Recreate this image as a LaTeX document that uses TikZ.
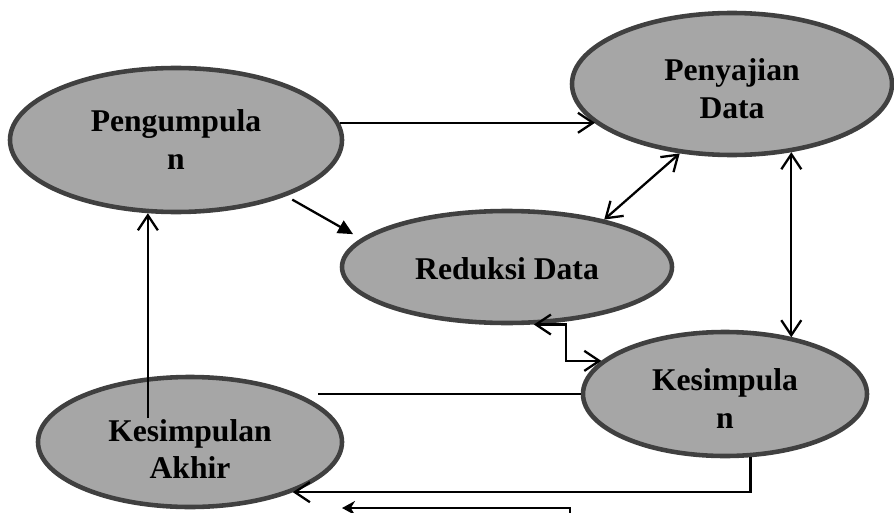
\documentclass[tikz,border=0pt]{standalone}
\usepackage{fontspec}
\setmainfont{Liberation Serif}
\usetikzlibrary{shapes, arrows.meta, positioning}

\definecolor{blobfill}{RGB}{166,166,166}
\definecolor{blobline}{RGB}{64,64,64}
\tikzset{
  blob/.style={ellipse, draw=blobline, fill=blobfill, line width=2.6pt, inner sep=0pt,
    align=center, font=\fontsize{18}{21.6}\selectfont\bfseries},
  barb/.style={line width=1.3pt, -{Straight Barb[length=3mm,width=4mm]}},
  barbs/.style={line width=1.3pt, {Straight Barb[length=3mm,width=4mm]}-{Straight Barb[length=3mm,width=4mm]}},
  plain/.style={line width=0.9pt}
}

\begin{document}
\begin{tikzpicture}[scale=1]
  \useasboundingbox (0,0) rectangle (17.88,10.24);
  \node[blob, minimum width=6.64cm, minimum height=2.88cm] (peng) at (3.52,7.44) {Pengumpula\\n};
  \node[blob, minimum width=6.4cm, minimum height=2.84cm] (peny) at (14.64,8.56) {\rule{0pt}{17.5pt}Penyajian\\Data};
  \node[blob, minimum width=6.6cm, minimum height=2.24cm] (red) at (10.14,4.9) {\rule{0pt}{15pt}Reduksi Data};
  \node[blob, minimum width=5.68cm, minimum height=2.48cm] (kes) at (14.5,2.36) {\rule{0pt}{18pt}Kesimpula\\n};
  \node[blob, minimum width=6.08cm, minimum height=2.6cm] (akhir) at (3.8,1.4) {\rule{0pt}{20.5pt}Kesimpulan\\Akhir};
  % free ends
  \coordinate (gap) at (6.36,2.36);
  \coordinate (lowin) at (11.4,-0.3);
  \coordinate (lowend) at (6.84,0.08);

  \draw[barb] (peng.6) -- (peng.6 -| peny.196);
  \draw[line width=1.3pt, -{Triangle[length=3mm,width=2.8mm]}, shorten <=1.4mm, shorten >=1.8mm] (peng.-27) -- (red.169);
  \draw[barbs] (red.26) -- (peny.233);
  \draw[barbs] (peny.-49) -- (peny.-49 |- kes.40);
  \draw[barbs] (red.-65) -- ++(0.64,0) |- (kes.165);
  \draw[plain] (kes.west) -- (gap);
  \draw[barb] (kes.-68) |- (akhir.-26);
  \draw[line width=1.3pt, -{Stealth[length=2.6mm,width=2.8mm]}] (lowin) |- (lowend);
  \draw[barb] ([yshift=4.8mm]peng.-111.5 |- akhir.center) -- (peng.-111.5);
\end{tikzpicture}
\end{document}
